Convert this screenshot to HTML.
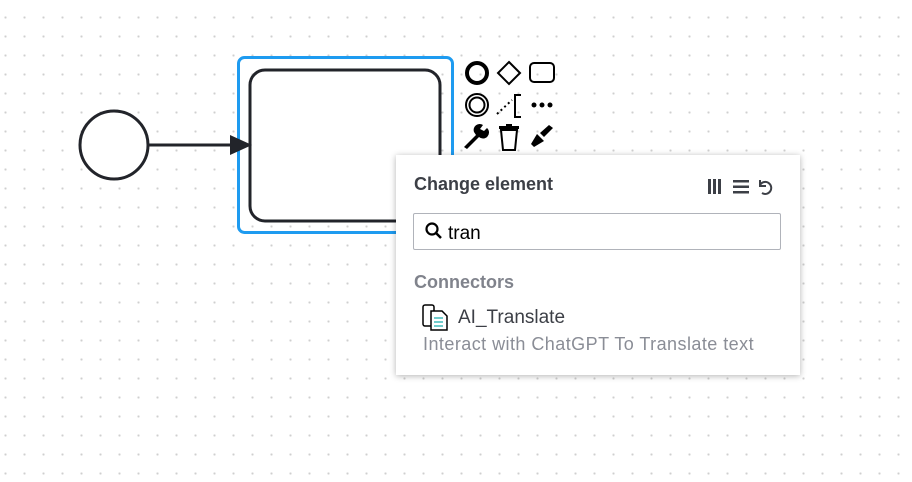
<!DOCTYPE html>
<html><head><style>
body{margin:0;width:912px;height:482px;overflow:hidden;background:#fff;font-family:"Liberation Sans",sans-serif;
background-image:radial-gradient(circle,#cfcfcf 1px,transparent 1.2px);background-size:19px 19px;background-position:-4px 8px;position:relative}
.pop{position:absolute;left:396px;top:155px;width:404px;height:220px;background:#fff;box-shadow:0 1px 6px rgba(0,0,0,.3);}
.t{position:absolute;white-space:nowrap}
</style></head><body>
<svg width="912" height="482" style="position:absolute;left:0;top:0">
<circle cx="114" cy="145" r="34" fill="#fff" stroke="#22242a" stroke-width="3"/>
<line x1="148" y1="145" x2="236" y2="145" stroke="#22242a" stroke-width="3"/>
<rect x="238.5" y="57.5" width="214" height="175" rx="6" fill="none" stroke="#1e9bf0" stroke-width="3"/>
<rect x="250" y="70" width="190" height="151" rx="15" fill="#fff" stroke="#22242a" stroke-width="3"/>
<polygon points="252,145 230,135 230,155" fill="#22242a"/>
<g fill="none" stroke="#000">
<circle cx="477" cy="73" r="10" stroke-width="4"/>
<polygon points="509,62 520,73 509,84 498,73" stroke-width="2"/>
<rect x="530" y="63" width="24" height="19" rx="4" stroke-width="2"/>
<circle cx="477" cy="105" r="11" stroke-width="2"/><circle cx="477" cy="105" r="7.5" stroke-width="2"/>
<path d="M497 114 L512 100" stroke-width="2" stroke-dasharray="2 3"/>
<path d="M521 95 H515 V117 H521" stroke-width="2"/>
</g>
<g fill="#000"><circle cx="534" cy="105" r="2.5"/><circle cx="542" cy="105" r="2.5"/><circle cx="550" cy="105" r="2.5"/>
<path d="M464 147 L476 135 L474 132 A6 6 0 0 1 483 125 L480 129 L484 131 L487 128 A6 6 0 0 1 479 137 L467 149Z"/>
<rect x="499" y="126" width="20" height="3"/><rect x="506" y="124" width="6" height="3"/>
<path d="M501 130 H517 L515 150 H503Z" fill="none" stroke="#000" stroke-width="2"/>
<path d="M531 144 L537 134 L544 141 L534 147Z"/><path d="M540 133 L549 125 L553 128 L544 137Z"/>
</g>
</svg>
<div class="pop">
<div class="t" style="left:18px;top:19px;font-size:18px;font-weight:bold;color:#3c3f46">Change element</div>
<svg style="position:absolute;left:310px;top:22px" width="75" height="20">
<g fill="#3c3f46"><rect x="2" y="2" width="3" height="15"/><rect x="7" y="2" width="3" height="15"/><rect x="12" y="2" width="3" height="15"/>
<rect x="27" y="3" width="16" height="2.5"/><rect x="27" y="8.5" width="16" height="2.5"/><rect x="27" y="14" width="16" height="2.5"/></g>
<path d="M56 16 A6 6 0 1 0 54 8 M54 3 V9 H60" fill="none" stroke="#3c3f46" stroke-width="2"/>
</svg>
<div style="position:absolute;left:17px;top:58px;width:366px;height:35px;border:1px solid #b0b3ba;border-radius:2px"></div>
<svg style="position:absolute;left:28px;top:66px" width="20" height="20"><circle cx="8" cy="8" r="5.5" fill="none" stroke="#000" stroke-width="2.2"/><line x1="12" y1="12" x2="17" y2="17" stroke="#000" stroke-width="2.5"/></svg>
<div class="t" style="left:52px;top:68px;font-size:19px;color:#000">tran</div>
<div class="t" style="left:18px;top:117px;font-size:18px;font-weight:bold;color:#80838c">Connectors</div>
<svg style="position:absolute;left:26px;top:148px" width="28" height="28"><rect x="1" y="2" width="11" height="21" rx="2" fill="#fff" stroke="#000" stroke-width="1.5"/><path d="M9 8 H20 L25 13 V27 H9Z" fill="#fff" stroke="#000" stroke-width="1.5"/><g stroke="#1aa" stroke-width="1.2"><line x1="12" y1="15" x2="21" y2="15"/><line x1="12" y1="19" x2="21" y2="19"/><line x1="12" y1="23" x2="21" y2="23"/></g></svg>
<div class="t" style="left:62px;top:152px;font-size:19px;color:#3c3f46">AI_Translate</div>
<div class="t" style="left:27px;top:179px;font-size:18px;letter-spacing:0.45px;color:#8a8d96">Interact with ChatGPT To Translate text</div>
</div>
</body></html>
